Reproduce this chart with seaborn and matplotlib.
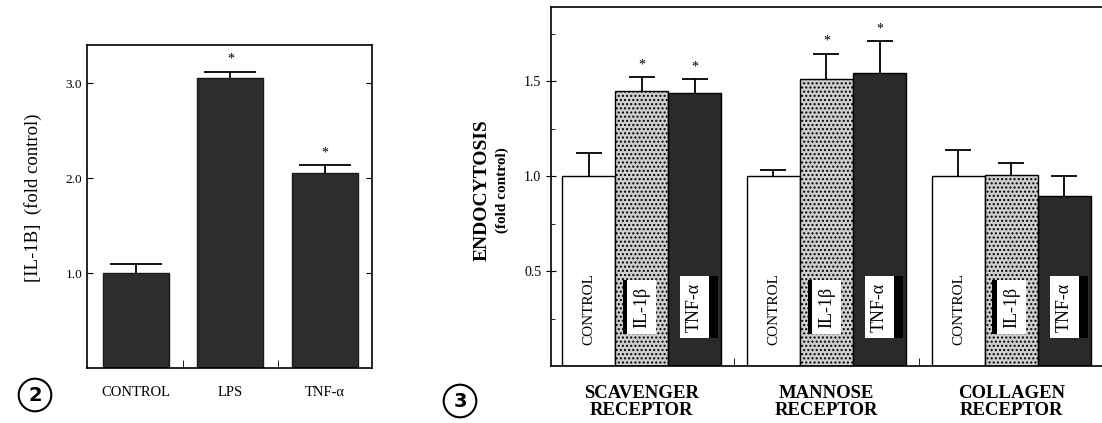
import numpy as np
import pandas as pd
import matplotlib
matplotlib.use("Agg")
import matplotlib.pyplot as plt
import matplotlib.patheffects as pe
import seaborn as sns

# panel 2: IL-1B release
il_groups = ["CONTROL", "LPS", "TNF-α"]
il_means = [1.0, 3.05, 2.05]
il_err = [0.10, 0.07, 0.085]
il_sig = [False, True, True]

# panel 3: endocytosis per receptor
receptors = ["SCAVENGER\nRECEPTOR", "MANNOSE\nRECEPTOR", "COLLAGEN\nRECEPTOR"]
treatments = ["CONTROL", "IL-1β", "TNF-α"]
endo_control = [1.0, 1.0, 1.0]
endo_control_err = [0.12, 0.03, 0.135]
endo_il1b = [1.45, 1.51, 1.005]
endo_il1b_err = [0.07, 0.135, 0.065]
endo_tnf = [1.435, 1.54, 0.895]
endo_tnf_err = [0.075, 0.17, 0.105]
endo_sig_il1b = [True, True, False]
endo_sig_tnf = [True, True, False]

sns.set_style("ticks")
plt.rcParams["font.family"] = ["Liberation Serif", "DejaVu Serif"]
plt.rcParams.update({"axes.edgecolor": "black", "text.color": "black",
                     "xtick.color": "black", "ytick.color": "black"})

fig = plt.figure(figsize=(11.02, 4.23), dpi=100)
ax1 = fig.add_axes([87 / 1102, 1 - 368 / 423, 285 / 1102, 323 / 423])
ax2 = fig.add_axes([551 / 1102, 1 - 366 / 423, 551 / 1102, 359 / 423])


def upper_errorbar(ax, x, y, err, capsize):
    eb = ax.errorbar(x, y, yerr=[np.zeros(len(err)), err], fmt="none",
                     ecolor="black", elinewidth=1.3, capsize=capsize,
                     capthick=1.3, zorder=1)
    eb[1][0].set_visible(False)


# ---- panel 2 ----
df1 = pd.DataFrame({"group": il_groups, "value": il_means})
sns.barplot(data=df1, x="group", y="value", color="#2d2d2d", width=0.7,
            edgecolor="#1a1a1a", linewidth=1, ax=ax1, zorder=2)
x1 = [p.get_x() + p.get_width() / 2 for p in ax1.patches]
upper_errorbar(ax1, x1, il_means, il_err, 19)
for x, m, e, s in zip(x1, il_means, il_err, il_sig):
    if s:
        ax1.text(x, m + e + 0.06, "*", ha="center", va="bottom", fontsize=10)

ax1.set_xlim(-0.52, 2.5)
ax1.set_ylim(0, 3.4)
ax1.set_yticks([1, 2, 3])
ax1.set_yticklabels(["1.0", "2.0", "3.0"], fontsize=9.5)
ax1.set_xticks([0, 1, 2])
ax1.set_xticklabels(il_groups, fontsize=10.5)
ax1.set_xticks([0.5, 1.5], minor=True)
ax1.tick_params(axis="x", which="major", length=0, pad=13)
ax1.tick_params(axis="x", which="minor", direction="in", length=6)
ax1.tick_params(axis="y", which="major", direction="in", length=4,
                right=True, left=True)
ax1.set_xlabel("")
ax1.set_ylabel("")
for sp in ax1.spines.values():
    sp.set_linewidth(1.2)

fig.text(33 / 1102, 1 - 198 / 423, "[IL-1B]  (fold control)", rotation=90,
         ha="center", va="center", fontsize=13.5)

# ---- panel 3 ----
df2 = pd.DataFrame({
    "receptor": receptors * 3,
    "treatment": np.repeat(treatments, 3),
    "value": endo_control + endo_il1b + endo_tnf,
})
pal = {"CONTROL": "white", "IL-1β": "#cfcfcf", "TNF-α": "#2a2a2a"}
sns.barplot(data=df2, x="receptor", y="value", hue="treatment",
            palette=pal, width=0.86, gap=0, edgecolor="black", linewidth=1,
            legend=False, ax=ax2, zorder=2)

means = [endo_control, endo_il1b, endo_tnf]
errs = [endo_control_err, endo_il1b_err, endo_tnf_err]
sigs = [[False] * 3, endo_sig_il1b, endo_sig_tnf]
bar_conts = list(ax2.containers)
for k, cont in enumerate(bar_conts):
    xs = [p.get_x() + p.get_width() / 2 for p in cont.patches]
    if k == 1:
        for p in cont.patches:
            p.set_hatch("....")
    upper_errorbar(ax2, xs, means[k], errs[k], 9.5)
    for x, m, e, s in zip(xs, means[k], errs[k], sigs[k]):
        if s:
            ax2.text(x, m + e + 0.03, "*", ha="center", va="bottom",
                     fontsize=10)
    for x in xs:
        if k == 0:
            ax2.text(x, 0.3, treatments[k], rotation=90, ha="center",
                     va="center", fontsize=11, zorder=5)
        else:
            t = ax2.text(x, 0.31, treatments[k], rotation=90, ha="center",
                         va="center", fontsize=13, zorder=5,
                         bbox=dict(boxstyle="square,pad=0.35",
                                   facecolor="white", edgecolor="none"))
            off = (-3, 0) if k == 1 else (6, 0)
            t.get_bbox_patch().set_path_effects([
                pe.SimplePatchShadow(offset=off, shadow_rgbFace="black",
                                     alpha=1.0),
                pe.Normal()])

ax2.set_xlim(-0.49, 2.49)
ax2.set_ylim(0, 1.89)
ax2.set_yticks([0.5, 1.0, 1.5])
ax2.set_yticklabels(["0.5", "1.0", "1.5"], fontsize=10)
ax2.set_yticks([0.25, 0.75, 1.25, 1.75], minor=True)
ax2.set_xticks([0, 1, 2])
ax2.set_xticklabels(receptors, fontsize=13.5, fontweight="bold",
                    linespacing=1.0)
ax2.set_xticks([0.5, 1.5], minor=True)
ax2.tick_params(axis="x", which="major", length=0, pad=14)
ax2.tick_params(axis="x", which="minor", direction="in", length=6)
ax2.tick_params(axis="y", which="major", direction="inout", length=7)
ax2.tick_params(axis="y", which="minor", direction="in", length=3)
ax2.set_xlabel("")
ax2.set_ylabel("")
ax2.spines["right"].set_visible(False)
for sp in ax2.spines.values():
    sp.set_linewidth(1.2)

fig.text(482 / 1102, 1 - 190 / 423, "ENDOCYTOSIS", rotation=90,
         ha="center", va="center", fontsize=14, fontweight="bold")
fig.text(502 / 1102, 1 - 190 / 423, "(fold control)", rotation=90,
         ha="center", va="center", fontsize=11, fontweight="bold")

# panel numbers
for xp, yp, lab in [(35, 395, "2"), (460, 401, "3")]:
    fig.text(xp / 1102, 1 - yp / 423, lab, ha="center", va="center",
             fontsize=14, fontweight="bold", family="DejaVu Sans",
             bbox=dict(boxstyle="circle,pad=0.35", facecolor="white",
                       edgecolor="black", linewidth=1.5))

fig.savefig("out.png", dpi=100)
